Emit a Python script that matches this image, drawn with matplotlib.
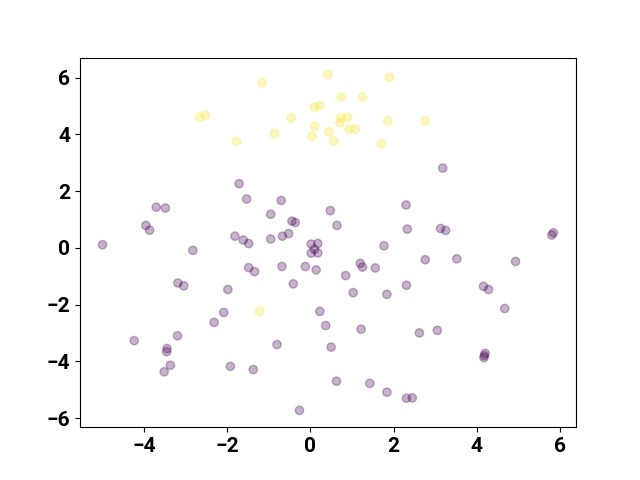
import numpy as np
import matplotlib
matplotlib.use('Agg')
import matplotlib.pyplot as plt

plt.rcParams.update({
    'font.family': 'Roboto',
    'font.weight': 'bold',
    'font.size': 15,
})

# ── class 0 (purple) ──
x0 = [-1.71, -1.53, -3.70, -3.48, -3.95, -3.86, -4.99, -1.81, -1.61, -1.48,
      -2.82, -0.70, -0.95, 0.48, -0.44, -0.36, 0.64, -0.52, -0.67, -0.95,
      0.02, 0.18, 0.10, 0.02, 0.18, 1.77, 2.30, 2.33, 3.18, 3.13,
      3.25, 5.80, 5.84, -1.48, -3.18, -3.04, -1.98, -2.08, -2.31, -3.19,
      -4.23, -3.44, -3.45, -3.36, -3.51, -1.92, -1.37, -1.34, -0.68, -0.12,
      0.14, 1.20, 1.25, 1.56, 0.85, 2.31, -0.41, 1.03, 1.84, 0.23,
      0.37, 1.22, -0.80, 0.50, 0.63, 1.43, 1.84, 2.31, 2.45, -0.26,
      2.76, 3.52, 4.93, 4.16, 4.28, 4.67, 2.62, 3.05, 4.20, 4.18, 4.17]
y0 = [2.26, 1.72, 1.43, 1.40, 0.79, 0.62, 0.11, 0.41, 0.27, 0.15,
      -0.09, 1.67, 1.18, 1.31, 0.94, 0.89, 0.79, 0.50, 0.41, 0.31,
      0.13, 0.15, -0.05, -0.19, -0.18, 0.07, 1.51, 0.66, 2.81, 0.68,
      0.61, 0.45, 0.53, -0.70, -1.24, -1.34, -1.47, -2.28, -2.63, -3.10,
      -3.27, -3.55, -3.66, -4.14, -4.37, -4.18, -4.29, -0.84, -0.66, -0.66,
      -0.78, -0.55, -0.68, -0.71, -0.98, -1.32, -1.27, -1.58, -1.64, -2.24,
      -2.74, -2.87, -3.41, -3.50, -4.70, -4.78, -5.09, -5.30, -5.29, -5.73,
      -0.42, -0.39, -0.48, -1.36, -1.47, -2.14, -3.00, -2.91, -3.72, -3.80, -3.87]

# ── class 1 (yellow) ──
x1 = [-2.66, -2.52, -1.77, -1.16, 0.42, 1.90, 0.74, 1.25, 0.10, 0.22,
      -0.46, 0.73, 0.89, 0.71, 1.86, 0.10, -0.86, 0.93, 1.08, 0.45,
      0.04, 0.56, 1.71, 2.76, -1.22]
y1 = [4.60, 4.67, 3.75, 5.82, 6.11, 6.01, 5.31, 5.31, 4.95, 5.01,
      4.57, 4.58, 4.60, 4.41, 4.47, 4.28, 4.02, 4.18, 4.18, 4.09,
      3.93, 3.76, 3.67, 4.47, -2.23]

X = np.array(x0 + x1)
Y = np.array(y0 + y1)
labels = np.array([0] * len(x0) + [1] * len(x1))

fig, ax = plt.subplots(figsize=(6.4, 4.8), dpi=100)
ax.scatter(X, Y, c=labels, cmap='viridis', alpha=0.3)
fig.savefig('out.png')
